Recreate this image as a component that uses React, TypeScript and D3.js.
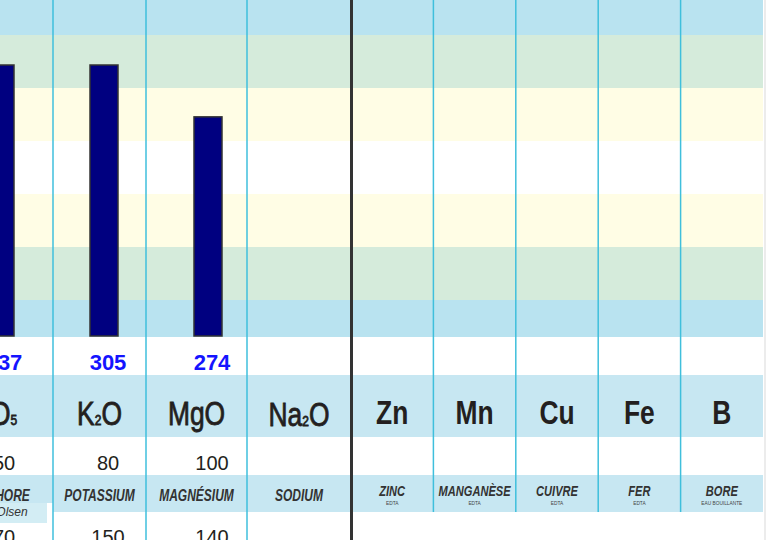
import React from 'react';
import * as d3 from 'd3';

// macro nutrients (bars)
const macroKeys = ['P2O5', 'K2O', 'MgO'];
const macroSymbols = [['P', '2', 'O', '5'], ['K', '2', 'O'], ['MgO']];
const macroValues = [337, 305, 274];
const macroLow = [50, 80, 100];
const macroHigh = [70, 150, 140];
const macroNames = ['PHOSPHORE', 'POTASSIUM', 'MAGNÉSIUM'];

// sodium column (no value)
const naSymbol = ['Na', '2', 'O'];
const naName = 'SODIUM';

// trace elements
const microKeys = ['Zn', 'Mn', 'Cu', 'Fe', 'B'];
const microNames = ['ZINC', 'MANGANÈSE', 'CUIVRE', 'FER', 'BORE'];
const microMethods = ['EDTA', 'EDTA', 'EDTA', 'EDTA', 'EAU BOUILLANTE'];

// background zones, top to bottom
const zoneColors = ['#b9e3f0', '#d5ebdb', '#fffde5', '#ffffff', '#fffde5', '#d5ebdb', '#b9e3f0'];

const width = 767;
const height = 540;
const tableRight = 763;
const leftEdges = [-70, 53, 146, 247, 351];
const rows = { valTop: 337, headTop: 375, headBot: 437, nameTop: 475, nameBot: 512 };

const sans = "'Liberation Sans', Arial, sans-serif";
const ink = '#231f20';
const lineBlue = '#3fbfdc';
const headBlue = '#c7e7f2';

// condensed text: Liberation Sans squeezed horizontally
const Narrow = ({ x, y, sx, children, ...rest }: any) => (
    <text transform={`translate(${x},${y}) scale(${sx},1)`} textAnchor="middle" fontFamily={sans} {...rest}>
        {children}
    </text>
);

const Symbol = ({ parts, x, y, bold }: { parts: string[]; x: number; y: number; bold?: boolean }) => (
    <Narrow x={x} y={y} sx={0.8} fontSize={33} fontWeight={bold ? 'bold' : 'normal'} fill={ink}
        stroke={bold ? 'none' : ink} strokeWidth={0.8}>
        {parts.map((p, i) => (
            <tspan key={i} fontSize={i % 2 === 1 ? 15 : 33}>{p}</tspan>
        ))}
    </Narrow>
);

export default function App() {
    // zones behind bars
    const zoneY = d3.scaleBand<number>().domain(d3.range(zoneColors.length)).range([-18, 353]);

    // bar scales
    const xBar = d3.scalePoint<string>().domain(macroKeys).range([0, 208]);
    const yBar = d3.scaleLinear().domain([143, 305]).range([336, 65]).clamp(true);
    const barW = 28;

    const xMicro = d3.scaleBand<string>().domain(microKeys).range([351, tableRight]);

    const colCenter = (i: number) => (leftEdges[i] + leftEdges[i + 1]) / 2;

    return (
        <svg width={width} height={height} style={{ position: 'absolute', left: 0, top: 0, background: '#fff' }}>
            {zoneColors.map((c, i) => (
                <rect key={i} x={0} y={zoneY(i)} width={tableRight} height={zoneY.bandwidth()} fill={c} />
            ))}
            {/* white value row */}
            <rect x={0} y={rows.valTop} width={width} height={rows.headTop - rows.valTop} fill="#fff" />
            {/* header band */}
            <rect x={0} y={rows.headTop} width={tableRight} height={rows.headBot - rows.headTop} fill={headBlue} />
            {/* name band */}
            <rect x={leftEdges[1]} y={rows.nameTop} width={tableRight - leftEdges[1]} height={rows.nameBot - rows.nameTop} fill={headBlue} />
            <rect x={0} y={rows.nameTop} width={leftEdges[1]} height={503 - rows.nameTop} fill={headBlue} />
            <rect x={-70} y={503} width={117} height={20} fill="#d3edf4" />

            {/* bars */}
            {macroKeys.map((k, i) => (
                <rect key={k} x={(xBar(k) as number) - barW / 2} y={yBar(macroValues[i])}
                    width={barW} height={yBar(d3.min(yBar.domain()) as number) - yBar(macroValues[i])}
                    fill="#000080" stroke="#333" strokeWidth={1.5} />
            ))}

            {/* column lines */}
            {leftEdges.slice(1, 4).map((x) => (
                <line key={x} x1={x} x2={x} y1={0} y2={height} stroke={lineBlue} strokeWidth={1.5} />
            ))}
            {microKeys.slice(1).map((k) => (
                <line key={k} x1={xMicro(k)} x2={xMicro(k)} y1={0} y2={rows.nameBot} stroke={lineBlue} strokeWidth={1.5} />
            ))}
            <line x1={351.5} x2={351.5} y1={0} y2={height} stroke="#333" strokeWidth={3} />
            <line x1={765} x2={765} y1={0} y2={height} stroke="#ececec" strokeWidth={2} />

            {/* macro texts */}
            {macroKeys.map((k, i) => {
                const cx = (xBar(k) as number) + 4;
                return (
                    <g key={k}>
                        <text x={cx} y={370} textAnchor="middle" fontFamily={sans} fontWeight="bold" fontSize={22} fill="#1414ff">
                            {macroValues[i]}
                        </text>
                        <Symbol parts={macroSymbols[i]} x={colCenter(i)} y={425} />
                        <text x={cx} y={470} textAnchor="middle" fontFamily={sans} fontSize={20} fill={ink}>{macroLow[i]}</text>
                        <text x={cx} y={544} textAnchor="middle" fontFamily={sans} fontSize={20} fill={ink}>{macroHigh[i]}</text>
                        <Narrow x={colCenter(i)} y={501} sx={0.75} fontStyle="italic" fontWeight="bold" fontSize={16} fill="#333">
                            {macroNames[i]}
                        </Narrow>
                    </g>
                );
            })}
            <text x={12} y={516} textAnchor="middle" fontFamily={sans} fontStyle="italic" fontSize={12} fill="#333">Olsen</text>

            {/* sodium */}
            <Symbol parts={naSymbol} x={colCenter(3)} y={426} />
            <Narrow x={colCenter(3)} y={501} sx={0.75} fontStyle="italic" fontWeight="bold" fontSize={16} fill="#333">
                {naName}
            </Narrow>

            {/* trace elements */}
            {microKeys.map((k, i) => {
                const cx = (xMicro(k) as number) + xMicro.bandwidth() / 2;
                return (
                    <g key={k}>
                        <Symbol parts={[k]} x={cx} y={424} bold />
                        <Narrow x={cx} y={496} sx={0.74} fontStyle="italic" fontWeight="bold" fontSize={15} fill="#333">
                            {microNames[i]}
                        </Narrow>
                        <Narrow x={cx} y={505} sx={0.8} fontSize={6} fill="#444">{microMethods[i]}</Narrow>
                    </g>
                );
            })}
        </svg>
    );
}
